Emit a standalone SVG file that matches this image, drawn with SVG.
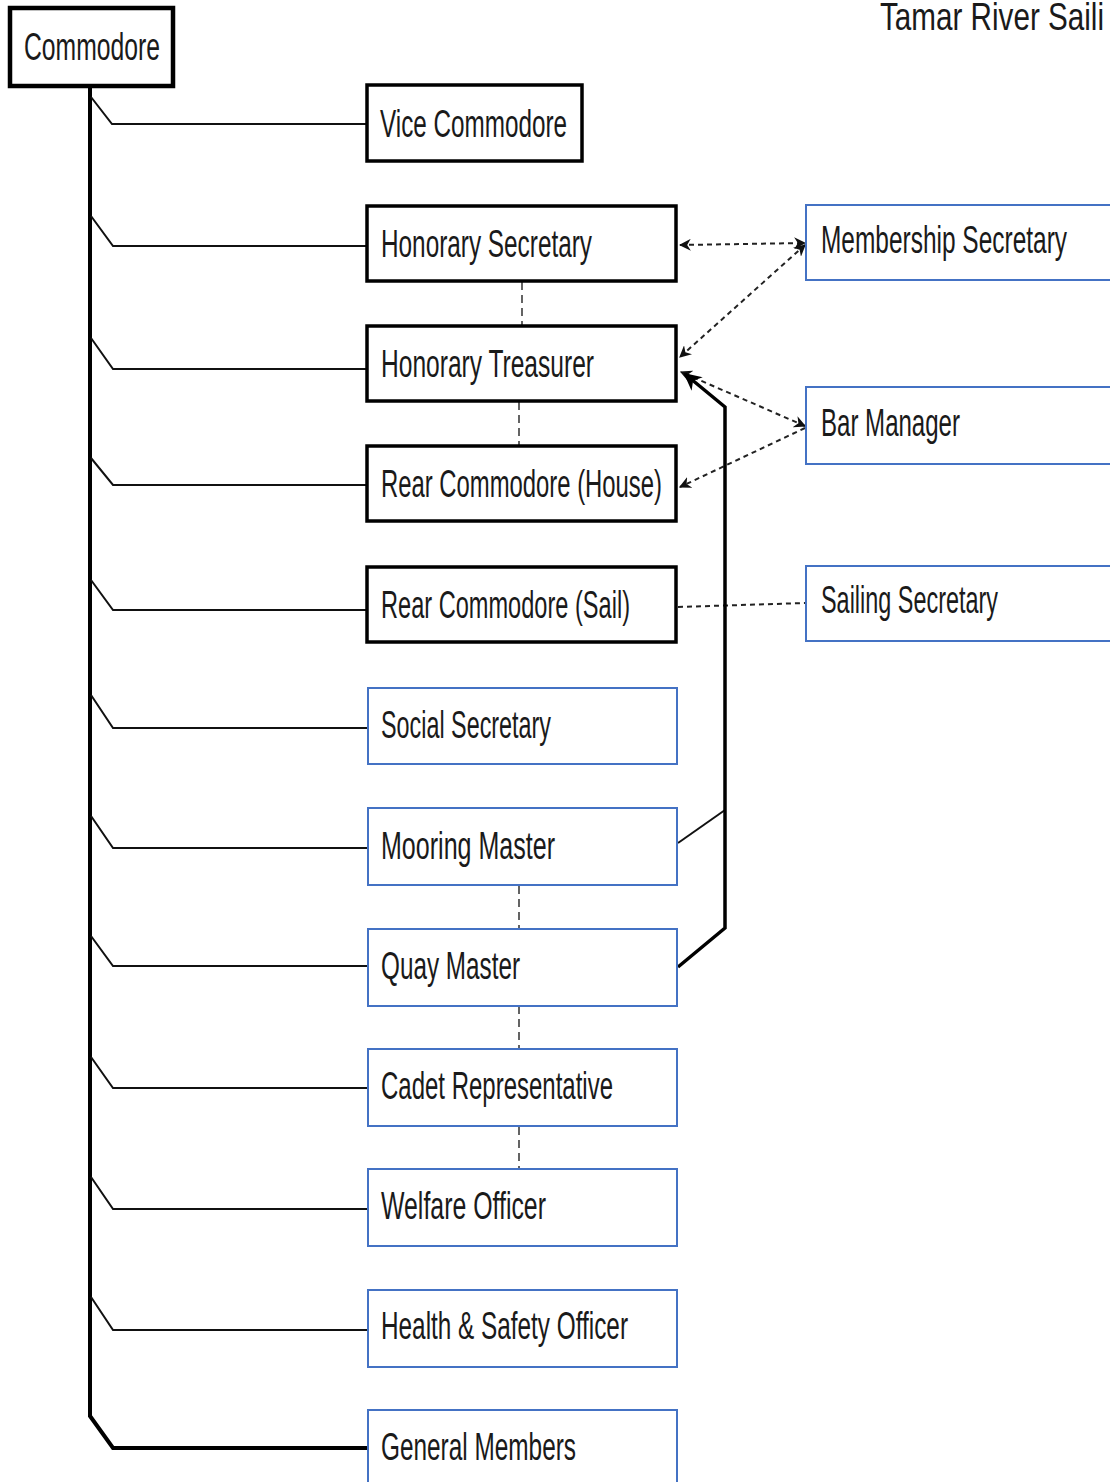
<svg xmlns="http://www.w3.org/2000/svg" width="1110" height="1482" viewBox="0 0 1110 1482">
<style>
text{font-family:"Liberation Sans",Arial,sans-serif;font-size:38px;fill:#1a1a1a;}
.bk{fill:#fff;stroke:#000;stroke-width:3.5}
.bl{fill:#fff;stroke:#4472c4;stroke-width:2}
.c{fill:none;stroke:#111;stroke-width:2}
.ct{fill:none;stroke:#000;stroke-width:4}
.dv{fill:none;stroke:#111;stroke-width:1.3;stroke-dasharray:8,5}
.dot{fill:none;stroke:#222;stroke-width:2;stroke-dasharray:5,4}
</style>
<defs>
<marker id="ah" viewBox="0 0 10 10" refX="9" refY="5" markerWidth="6" markerHeight="6" orient="auto-start-reverse" markerUnits="strokeWidth">
<path d="M0,0 L10,5 L0,10 L3,5 z" fill="#111"/>
</marker>
<marker id="ahb" viewBox="0 0 10 10" refX="9" refY="5" markerWidth="5" markerHeight="5" orient="auto" markerUnits="strokeWidth">
<path d="M0,0 L10,5 L0,10 L3,5 z" fill="#000"/>
</marker>
</defs>
<text x="880" y="30" textLength="224" lengthAdjust="spacingAndGlyphs">Tamar River Saili</text>
<g id="connectors">
<path class="ct" d="M90,87 V1416 L113,1448 H368"/>
<path class="c" d="M91,97 L112,124 H368"/>
<path class="c" d="M91,216 L113,246 H368"/>
<path class="c" d="M91,338 L113,369 H368"/>
<path class="c" d="M91,458 L113,485 H368"/>
<path class="c" d="M91,580 L113,610 H368"/>
<path class="c" d="M91,695 L113,728 H368"/>
<path class="c" d="M91,816 L113,848 H368"/>
<path class="c" d="M91,936 L113,966 H368"/>
<path class="c" d="M91,1057 L113,1088 H368"/>
<path class="c" d="M91,1177 L113,1209 H368"/>
<path class="c" d="M91,1297 L113,1330 H368"/>
<line class="dv" x1="522" y1="282" x2="522" y2="326"/>
<line class="dv" x1="519" y1="402" x2="519" y2="446"/>
<line class="dv" x1="519" y1="886" x2="519" y2="929"/>
<line class="dv" x1="519" y1="1006" x2="519" y2="1049"/>
<line class="dv" x1="519" y1="1127" x2="519" y2="1169"/>
<path class="dot" d="M680,245 L805,243" marker-start="url(#ah)" marker-end="url(#ah)"/>
<path class="dot" d="M805,245 L680,357" marker-start="url(#ah)" marker-end="url(#ah)"/>
<path class="dot" d="M805,426 L681,372" marker-start="url(#ah)" marker-end="url(#ah)"/>
<path class="dot" d="M805,428 L680,487" marker-end="url(#ah)"/>
<path class="dot" d="M678,607 L805,603"/>
<path class="c" d="M678,843 L725,810"/>
<path fill="none" stroke="#000" stroke-width="3.5" d="M678,967 L725,928 V407 L685,374" marker-end="url(#ahb)"/>
</g>
<g id="commodore"><rect class="bk" x="10" y="8" width="163" height="78" style="stroke-width:4.5"/><text x="24" y="60" textLength="136" lengthAdjust="spacingAndGlyphs">Commodore</text></g>
<g id="vice-commodore"><rect class="bk" x="367" y="85" width="215" height="76"/><text x="380" y="137" textLength="187" lengthAdjust="spacingAndGlyphs">Vice Commodore</text></g>
<g id="honorary-secretary"><rect class="bk" x="367" y="206" width="309" height="75"/><text x="381" y="257" textLength="211" lengthAdjust="spacingAndGlyphs">Honorary Secretary</text></g>
<g id="honorary-treasurer"><rect class="bk" x="367" y="326" width="309" height="75"/><text x="381" y="377" textLength="213" lengthAdjust="spacingAndGlyphs">Honorary Treasurer</text></g>
<g id="rear-commodore-house"><rect class="bk" x="367" y="446" width="309" height="75"/><text x="381" y="497" textLength="281" lengthAdjust="spacingAndGlyphs">Rear Commodore (House)</text></g>
<g id="rear-commodore-sail"><rect class="bk" x="367" y="567" width="309" height="75"/><text x="381" y="618" textLength="249" lengthAdjust="spacingAndGlyphs">Rear Commodore (Sail)</text></g>
<g id="social-secretary"><rect class="bl" x="368" y="688" width="309" height="76"/><text x="381" y="738" textLength="170" lengthAdjust="spacingAndGlyphs">Social Secretary</text></g>
<g id="mooring-master"><rect class="bl" x="368" y="808" width="309" height="77"/><text x="381" y="859" textLength="174" lengthAdjust="spacingAndGlyphs">Mooring Master</text></g>
<g id="quay-master"><rect class="bl" x="368" y="929" width="309" height="77"/><text x="381" y="979" textLength="139" lengthAdjust="spacingAndGlyphs">Quay Master</text></g>
<g id="cadet-representative"><rect class="bl" x="368" y="1049" width="309" height="77"/><text x="381" y="1099" textLength="232" lengthAdjust="spacingAndGlyphs">Cadet Representative</text></g>
<g id="welfare-officer"><rect class="bl" x="368" y="1169" width="309" height="77"/><text x="381" y="1219" textLength="165" lengthAdjust="spacingAndGlyphs">Welfare Officer</text></g>
<g id="health-safety-officer"><rect class="bl" x="368" y="1290" width="309" height="77"/><text x="381" y="1339" textLength="247" lengthAdjust="spacingAndGlyphs">Health &amp; Safety Officer</text></g>
<g id="general-members"><path class="bl" d="M368,1482 V1410 H677 V1482"/><text x="381" y="1460" textLength="195" lengthAdjust="spacingAndGlyphs">General Members</text></g>
<g id="membership-secretary"><path class="bl" d="M1110,205 H806 V280 H1110"/><text x="821" y="253" textLength="246" lengthAdjust="spacingAndGlyphs">Membership Secretary</text></g>
<g id="bar-manager"><path class="bl" d="M1110,387 H806 V464 H1110"/><text x="821" y="436" textLength="139" lengthAdjust="spacingAndGlyphs">Bar Manager</text></g>
<g id="sailing-secretary"><path class="bl" d="M1110,566 H806 V641 H1110"/><text x="821" y="613" textLength="177" lengthAdjust="spacingAndGlyphs">Sailing Secretary</text></g>
</svg>
